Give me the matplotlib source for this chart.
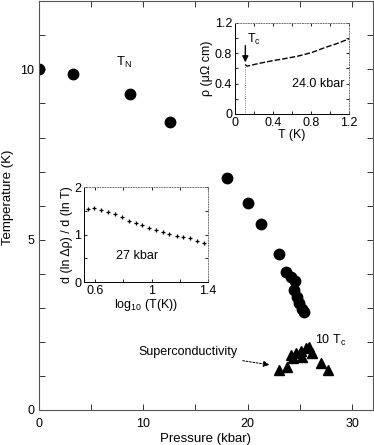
import matplotlib.pyplot as plt
import matplotlib.ticker as ticker

plt.rcParams["font.family"] = ["Liberation Sans", "DejaVu Sans"]
plt.rcParams["mathtext.fontset"] = "custom"
plt.rcParams["mathtext.rm"] = "Liberation Sans"

# main panel: Neel temperature (circles) and 10*Tc (triangles)
tn_pressure = [0.0, 3.3, 8.7, 12.6, 18.0, 20.0, 21.3, 23.05, 23.7, 24.2, 24.5,
               24.4, 24.7, 24.95, 25.2, 25.4]
tn_temp = [10.0, 9.88, 9.27, 8.45, 6.8, 6.07, 5.45, 4.57, 4.05, 3.9, 3.78,
           3.52, 3.31, 3.14, 2.96, 2.87]

tc_pressure = [23.0, 23.8, 24.2, 24.3, 24.6, 25.1, 25.2, 25.6, 25.9, 26.2,
               27.0, 27.7]
tc_temp = [1.17, 1.26, 1.61, 1.52, 1.67, 1.73, 1.55, 1.82, 1.85, 1.67,
           1.38, 1.17]

# upper inset: resistivity at 24.0 kbar
rho_T = [0.108, 0.13, 0.25, 0.39, 0.53, 0.67, 0.81, 0.95, 1.08, 1.2]
rho_val = [0.65, 0.63, 0.665, 0.70, 0.73, 0.764, 0.81, 0.876, 0.93, 0.99]

# lower inset: d(ln drho)/d(ln T) at 27 kbar
logT = [0.545, 0.593, 0.640, 0.687, 0.742, 0.789, 0.841, 0.888, 0.933,
        0.982, 1.032, 1.079, 1.126, 1.178, 1.225, 1.27, 1.32, 1.37]
slope = [1.54, 1.55, 1.52, 1.48, 1.43, 1.37, 1.29, 1.25, 1.20, 1.13, 1.09,
         1.05, 1.01, 0.97, 0.95, 0.92, 0.86, 0.83]

fig = plt.figure(figsize=(3.74, 4.45), dpi=100)
ax = fig.add_axes([0.104, 0.079, 0.893, 0.918])

ax.plot(tn_pressure, tn_temp, "o", color="black", markersize=7.5)
ax.plot(tc_pressure, tc_temp, "^", color="black", markersize=6.5)

ax.set_xlim(0, 32)
ax.set_ylim(0, 12)
ax.xaxis.set_major_locator(ticker.FixedLocator([0, 10, 20, 30]))
ax.xaxis.set_minor_locator(ticker.MultipleLocator(5))
ax.yaxis.set_major_locator(ticker.FixedLocator([0, 5, 10]))
ax.yaxis.set_minor_locator(ticker.MultipleLocator(1))
ax.tick_params(which="both", direction="in", top=True, right=True,
               labelsize=9, length=4, width=0.7, colors="#333333",
               labelcolor="black")
ax.tick_params(axis="x", pad=6)
for s in ax.spines.values():
    s.set_linewidth(0.8)
    s.set_color("#555555")
ax.set_xlabel("Pressure (kbar)", fontsize=9.5, labelpad=2)
ax.set_ylabel("Temperature (K)", fontsize=9.5)
ax.yaxis.set_label_coords(-0.075, 0.52)

ax.text(7.4, 10.2, r"$\mathrm{T_N}$", fontsize=9.5, ha="left", va="center")
ax.text(26.5, 2.05, r"10 $\mathrm{T_c}$", fontsize=9, ha="left", va="center")
ax.annotate("Superconductivity", xy=(22.1, 1.32), xytext=(9.5, 1.70),
            fontsize=9, ha="left", va="center",
            arrowprops=dict(arrowstyle="-|>", linestyle=(0, (2, 1.5)),
                            color="black", lw=0.7, shrinkA=2, shrinkB=0))

# upper inset
ax1 = fig.add_axes([0.628, 0.744, 0.305, 0.2045])
ax1.plot(rho_T, rho_val, color="black", lw=1.0, linestyle=(0, (4, 1.5)))
ax1.plot([rho_T[0], rho_T[0]], [0, rho_val[0]], color="#555555", lw=0.6,
         linestyle=":")
ax1.annotate("", xy=(0.11, 0.68), xytext=(0.11, 0.90),
             arrowprops=dict(arrowstyle="-|>", color="black", lw=1.0,
                             mutation_scale=9, shrinkA=0, shrinkB=0))
ax1.text(0.13, 0.98, r"$\mathrm{T_c}$", fontsize=9, ha="left", va="center")
ax1.text(1.15, 0.39, "24.0 kbar", fontsize=9, ha="right", va="center")
ax1.set_xlim(0, 1.2)
ax1.set_ylim(0, 1.2)
ax1.set_xticks([0, 0.4, 0.8, 1.2])
ax1.set_yticks([0, 0.4, 0.8, 1.2])
ax1.xaxis.set_major_formatter(ticker.FuncFormatter(lambda v, p: f"{v:g}"))
ax1.yaxis.set_major_formatter(ticker.FuncFormatter(lambda v, p: f"{v:g}"))
ax1.xaxis.set_minor_locator(ticker.MultipleLocator(0.2))
ax1.yaxis.set_minor_locator(ticker.MultipleLocator(0.2))
ax1.tick_params(which="both", direction="in", labelsize=9, length=2.5,
                width=0.6, top=True, right=True, pad=2)
ax1.set_xlabel("T (K)", fontsize=9, labelpad=0)
ax1.set_ylabel("ρ (μΩ cm)", fontsize=9, labelpad=1)
for side in ["top", "right"]:
    ax1.spines[side].set_linestyle(":")
    ax1.spines[side].set_color("#777777")
for s in ax1.spines.values():
    s.set_linewidth(0.7)

# lower inset
ax2 = fig.add_axes([0.2246, 0.366, 0.3316, 0.2135])
ax2.plot(logT, slope, "+", color="black", markersize=3.5, mew=0.9)
ax2.text(0.9, 0.55, "27 kbar", fontsize=9, ha="center", va="center")
ax2.set_xlim(0.52, 1.4)
ax2.set_ylim(0, 2)
ax2.set_xticks([0.6, 1, 1.4])
ax2.set_yticks([0, 1, 2])
ax2.xaxis.set_major_formatter(ticker.FuncFormatter(lambda v, p: f"{v:g}"))
ax2.xaxis.set_minor_locator(ticker.MultipleLocator(0.2))
ax2.yaxis.set_minor_locator(ticker.MultipleLocator(0.5))
ax2.tick_params(which="both", direction="in", labelsize=9, length=2.5,
                width=0.6, top=True, right=True, pad=2)
ax2.set_xlabel(r"log$_{10}$ (T(K))", fontsize=9, labelpad=0)
ax2.set_ylabel("d (ln Δρ) / d (ln T)", fontsize=9, labelpad=1)
for side in ["top", "right"]:
    ax2.spines[side].set_linestyle(":")
    ax2.spines[side].set_color("#777777")
for s in ax2.spines.values():
    s.set_linewidth(0.7)

fig.savefig("out.png", dpi=100)
